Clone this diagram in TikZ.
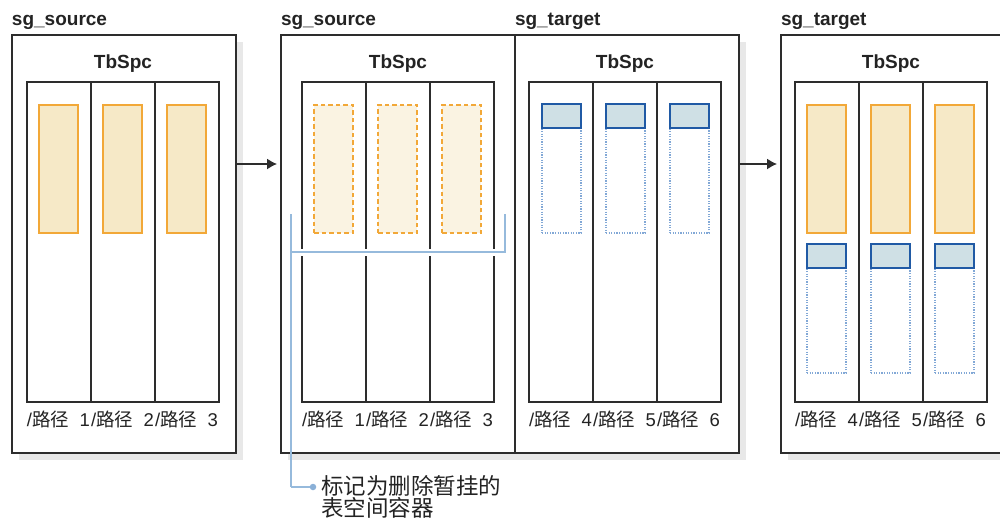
\documentclass[tikz,border=0pt]{standalone}
\usepackage{fontspec}
\setmainfont{Liberation Sans}
\newfontfamily\cjk{Noto Sans CJK SC}
\usetikzlibrary{arrows.meta}
\definecolor{frame}{RGB}{45,45,45}
\definecolor{shadowc}{RGB}{232,232,232}
\definecolor{ofill}{RGB}{246,233,199}
\definecolor{oline}{RGB}{242,168,56}
\definecolor{ofilllt}{RGB}{250,243,226}
\definecolor{bfill}{RGB}{207,224,229}
\definecolor{bline}{RGB}{32,90,165}
\definecolor{bdot}{RGB}{130,168,214}
\definecolor{brk}{RGB}{150,186,220}
\definecolor{txt}{RGB}{35,35,35}
\newcommand\tbgroup[5]{%
  \foreach \i/\n in {0/#3,1/#4,2/#5}{
    \node[colbox] (#1c\i) at ({#2+64*\i},82) {};
    \node[lbl] (#1l\i) at ({#2+64*\i},426) {/{\cjk 路径}\hfill\n};
  }
  \node[tbtitle] (#1t) at ({#2+96},68) {TbSpc};
}
\begin{document}
\begin{tikzpicture}[x=1pt,y=-1pt,
  every node/.style={inner sep=0pt,outer sep=0pt},
  outerbox/.style={draw=frame,line width=1.3pt,fill=white,anchor=north west,minimum height=418pt},
  colbox/.style={draw=frame,line width=1.3pt,anchor=north west,minimum width=64pt,minimum height=320pt},
  obox/.style={draw=oline,fill=ofill,line width=1.2pt,anchor=north west,minimum width=39pt,minimum height=128pt},
  oboxd/.style={draw=oline,fill=ofilllt,line width=1.2pt,dash pattern=on 4.5pt off 3pt,anchor=north west,minimum width=39pt,minimum height=128pt},
  bbox/.style={draw=bline,fill=bfill,line width=1.3pt,anchor=north west,minimum width=39pt,minimum height=24pt},
  bdots/.style={draw=bdot,line width=1.2pt,dash pattern=on 1.2pt off 1.4pt,anchor=north west,minimum width=39pt,minimum height=129pt},
  sgtitle/.style={font=\fontsize{19}{19}\selectfont\bfseries,text=txt,anchor=base west},
  tbtitle/.style={font=\fontsize{19}{19}\selectfont\bfseries,text=txt,anchor=base},
  lbl/.style={font=\fontsize{18.5}{18.5}\selectfont,text=txt,anchor=base west,text width=63pt},
  arr/.style={draw=frame,line width=1.3pt,-{Latex[length=10pt,width=11pt]},shorten >=4pt},
  brkline/.style={draw=brk,line width=1.6pt},
]
\useasboundingbox (0,0) rectangle (1000,519);
% shadows
\fill[shadowc] (19,42) rectangle (243,460);
\fill[shadowc] (288,42) rectangle (746,460);
\fill[shadowc] (788,42) rectangle (1012,460);
% outer boxes
\node[outerbox,minimum width=224pt] (g1) at (12,35) {};
\node[outerbox,minimum width=234pt] (g2a) at (281,35) {};
\node[outerbox,minimum width=224pt] (g2b) at (515,35) {};
\node[outerbox,minimum width=224pt] (g3) at (781,35) {};
% titles
\node[sgtitle] (s1) at (12,26) {sg\_source};
\node[sgtitle] (s2) at (281,26) {sg\_source};
\node[sgtitle] (s3) at (515,26) {sg\_target};
\node[sgtitle] (s4) at (781,26) {sg\_target};
% table spaces
\tbgroup{a}{27}{1}{2}{3}
\tbgroup{b}{302}{1}{2}{3}
\tbgroup{c}{529}{4}{5}{6}
\tbgroup{d}{795}{4}{5}{6}
% containers
\foreach \i in {0,1,2}{
  \node[obox] (ao\i) at ({27+12+64*\i},105) {};
  \node[oboxd] (bo\i) at ({302+12+64*\i},105) {};
  \node[bdots] (cd\i) at ({529+13+64*\i},104) {};
  \node[bbox] (cb\i) at ({529+13+64*\i},104) {};
  \node[obox] (do\i) at ({795+12+64*\i},105) {};
  \node[bdots] (dd\i) at ({795+12+64*\i},244) {};
  \node[bbox] (db\i) at ({795+12+64*\i},244) {};
}
% arrows
\coordinate (ay) at (0,164);
\draw[arr] (g1.east |- ay) -- (g2a.west |- ay);
\draw[arr] (g2b.east |- ay) -- (g3.west |- ay);
% bracket
\coordinate (bL) at (291,214);
\coordinate (bC) at (291,252);
\coordinate (bD) at (505,252);
\coordinate (bR) at (505,214);
\coordinate (bB) at (291,487);
\draw[white,line width=7pt] (bC) -- ([xshift=-1pt]bD);
\draw[brkline] (bL) -- (bB);
\draw[brkline] (bC) -- (bD) -- (bR);
\node[circle,fill=brk!90!bline,minimum size=6.5pt] (dot) at (313,487) {};
\draw[brkline] (bB) -- (dot);
\node[font=\fontsize{22.5}{22}\selectfont\cjk,text=txt,anchor=north west,align=left] (note) at (321,475) {标记为删除暂挂的\\表空间容器};
\end{tikzpicture}
\end{document}
